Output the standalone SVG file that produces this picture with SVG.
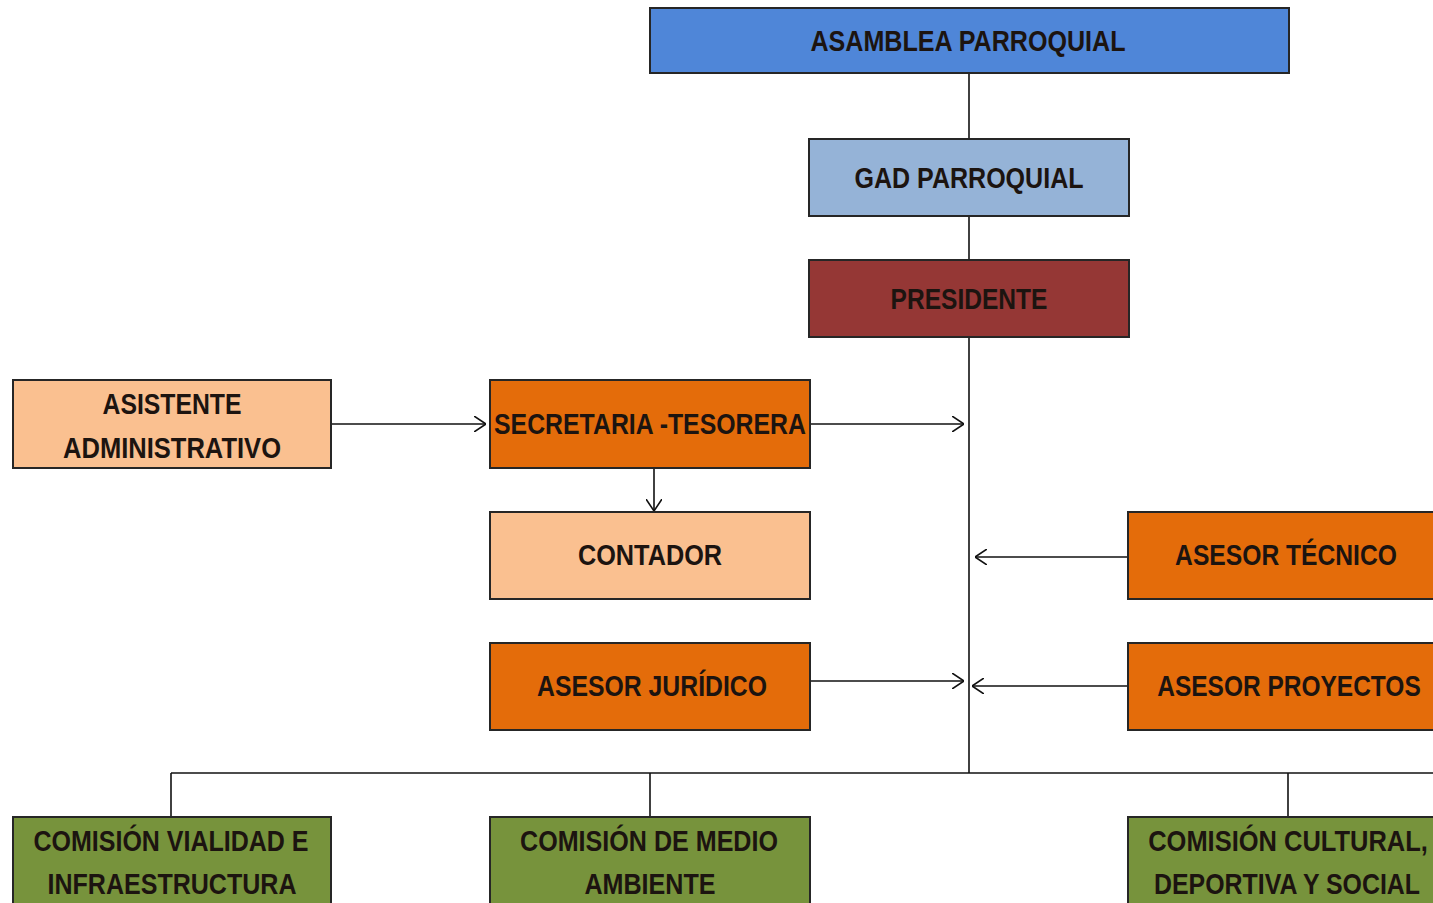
<svg xmlns="http://www.w3.org/2000/svg" width="1433" height="903" viewBox="0 0 1433 903">
<style>
.box{stroke:#262626;stroke-width:2}
.t{font-family:"Liberation Sans Narrow","Liberation Sans",Arial,sans-serif;font-weight:bold;font-size:29px;fill:#1c1410;text-anchor:middle}
.ln{stroke:#111;stroke-width:1.6;fill:none}
</style>
<defs>
<marker id="arr" viewBox="0 0 12 16" refX="12" refY="8" markerWidth="12" markerHeight="16" markerUnits="userSpaceOnUse" orient="auto">
<path d="M0,0 L12,8 L0,16" fill="none" stroke="#111" stroke-width="1.6"/>
</marker>
</defs>
<rect width="1433" height="903" fill="#fff"/>
<g id="connectors">
<line class="ln" x1="969" y1="73" x2="969" y2="773"/>
<line class="ln" x1="171" y1="773" x2="1433" y2="773"/>
<line class="ln" x1="171" y1="773" x2="171" y2="817"/>
<line class="ln" x1="650" y1="773" x2="650" y2="817"/>
<line class="ln" x1="1288" y1="773" x2="1288" y2="817"/>
<line class="ln" x1="331" y1="424" x2="486" y2="424" marker-end="url(#arr)"/>
<line class="ln" x1="810" y1="424" x2="964" y2="424" marker-end="url(#arr)"/>
<line class="ln" x1="654" y1="468" x2="654" y2="511" marker-end="url(#arr)"/>
<line class="ln" x1="1128" y1="557" x2="975" y2="557" marker-end="url(#arr)"/>
<line class="ln" x1="810" y1="681" x2="964" y2="681" marker-end="url(#arr)"/>
<line class="ln" x1="1128" y1="686" x2="972" y2="686" marker-end="url(#arr)"/>
</g>
<g id="asamblea"><rect class="box" x="650" y="8" width="639" height="65" fill="#4F86D8"/><text class="t" x="968" y="51" textLength="315" lengthAdjust="spacingAndGlyphs">ASAMBLEA PARROQUIAL</text></g>
<g id="gad"><rect class="box" x="809" y="139" width="320" height="77" fill="#95B3D7"/><text class="t" x="969" y="188" textLength="229" lengthAdjust="spacingAndGlyphs">GAD PARROQUIAL</text></g>
<g id="presidente"><rect class="box" x="809" y="260" width="320" height="77" fill="#953735"/><text class="t" x="969" y="309" textLength="157" lengthAdjust="spacingAndGlyphs">PRESIDENTE</text></g>
<g id="asistente"><rect class="box" x="13" y="380" width="318" height="88" fill="#FAC090"/><text class="t" x="172" y="414" textLength="139" lengthAdjust="spacingAndGlyphs">ASISTENTE</text><text class="t" x="172" y="458" textLength="218" lengthAdjust="spacingAndGlyphs">ADMINISTRATIVO</text></g>
<g id="secretaria"><rect class="box" x="490" y="380" width="320" height="88" fill="#E46C0A"/><text class="t" x="650" y="434" textLength="312" lengthAdjust="spacingAndGlyphs">SECRETARIA -TESORERA</text></g>
<g id="contador"><rect class="box" x="490" y="512" width="320" height="87" fill="#FAC090"/><text class="t" x="650" y="565" textLength="144" lengthAdjust="spacingAndGlyphs">CONTADOR</text></g>
<g id="juridico"><rect class="box" x="490" y="643" width="320" height="87" fill="#E46C0A"/><text class="t" x="652" y="696" textLength="230" lengthAdjust="spacingAndGlyphs">ASESOR JURÍDICO</text></g>
<g id="tecnico"><rect class="box" x="1128" y="512" width="306" height="87" fill="#E46C0A"/><text class="t" transform="translate(1286,565) scale(0.85,1)" x="0" y="0" textLength="261" lengthAdjust="spacingAndGlyphs">ASESOR TÉCNICO</text></g>
<g id="proyectos"><rect class="box" x="1128" y="643" width="306" height="87" fill="#E46C0A"/><text class="t" transform="translate(1289,696) scale(0.85,1)" x="0" y="0" textLength="310" lengthAdjust="spacingAndGlyphs">ASESOR PROYECTOS</text></g>
<g id="vialidad"><rect class="box" x="13" y="817" width="318" height="87" fill="#77933C"/><text class="t" x="171" y="851" textLength="275" lengthAdjust="spacingAndGlyphs">COMISIÓN VIALIDAD E</text><text class="t" x="172" y="894" textLength="249" lengthAdjust="spacingAndGlyphs">INFRAESTRUCTURA</text></g>
<g id="ambiente"><rect class="box" x="490" y="817" width="320" height="87" fill="#77933C"/><text class="t" x="649" y="851" textLength="258" lengthAdjust="spacingAndGlyphs">COMISIÓN DE MEDIO</text><text class="t" x="650" y="894" textLength="131" lengthAdjust="spacingAndGlyphs">AMBIENTE</text></g>
<g id="cultural"><rect class="box" x="1128" y="817" width="306" height="87" fill="#77933C"/><text class="t" transform="translate(1288,851) scale(0.85,1)" x="0" y="0" textLength="329" lengthAdjust="spacingAndGlyphs">COMISIÓN CULTURAL,</text><text class="t" transform="translate(1287,894) scale(0.85,1)" x="0" y="0" textLength="313" lengthAdjust="spacingAndGlyphs">DEPORTIVA Y SOCIAL</text></g>
</svg>
